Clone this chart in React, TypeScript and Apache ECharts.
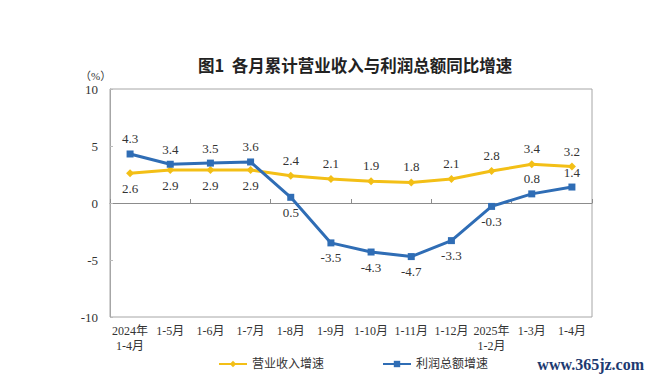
import React, { useEffect, useRef } from "react";
import * as echarts from "echarts";

const categories = ["2024年\n1-4月", "1-5月", "1-6月", "1-7月", "1-8月", "1-9月", "1-10月", "1-11月", "1-12月", "2025年\n1-2月", "1-3月", "1-4月"];
const revenueGrowth = [2.6, 2.9, 2.9, 2.9, 2.4, 2.1, 1.9, 1.8, 2.1, 2.8, 3.4, 3.2];
const profitGrowth = [4.3, 3.4, 3.5, 3.6, 0.5, -3.5, -4.3, -4.7, -3.3, -0.3, 0.8, 1.4];
const revenueLabelPos = ["bottom", "bottom", "bottom", "bottom", "top", "top", "top", "top", "top", "top", "top", "top"];
const profitLabelPos = ["top", "top", "top", "top", "bottom", "bottom", "bottom", "bottom", "bottom", "bottom", "top", "top"];
const yTicks = { min: -10, max: 10, interval: 5 };

const SERIF = "'Liberation Serif', 'Times New Roman', 'Noto Sans CJK SC', serif";
const YELLOW = "#F3BF16";
const BLUE = "#2F6DB5";

export default function App() {
  const ref = useRef<HTMLDivElement>(null);
  useEffect(() => {
    if (!ref.current) return;
    const chart = echarts.init(ref.current, undefined, { renderer: "svg" });
    const mk = (vals: number[], pos: string[]) =>
      vals.map((v, i) => ({ value: v, label: { position: pos[i] } }));
    chart.setOption({
      animation: false,
      backgroundColor: "#ffffff",
      title: {
        text: "图1  各月累计营业收入与利润总额同比增速",
        left: 193,
        top: 52,
        textStyle: { fontSize: 16.5, fontWeight: "bold", color: "#222", fontFamily: "'Noto Sans CJK SC', sans-serif" },
      },
      grid: { left: 110, right: 62, top: 89, bottom: 65, show: true, borderColor: "#a6a6a6", borderWidth: 1, outerBoundsMode: "none", containLabel: false },
      legend: {
        bottom: 7,
        left: 213,
        itemGap: 58,
        itemWidth: 28,
        itemHeight: 8,
        textStyle: { fontSize: 12, color: "#333", fontFamily: SERIF },
        data: ["营业收入增速", "利润总额增速"],
      },
      xAxis: [
        {
          type: "category",
          data: categories,
          position: "bottom",
          boundaryGap: true,
          axisLine: { show: false, onZero: false },
          axisTick: { show: false },
          axisLabel: { margin: 6, fontSize: 12, color: "#333", fontFamily: SERIF, lineHeight: 15, interval: 0 },
          splitLine: { show: false },
        },
        {
          type: "category",
          data: categories,
          position: "top",
          boundaryGap: true,
          axisLine: { show: true, onZero: true, lineStyle: { color: "#8c8c8c", width: 1 } },
          axisTick: { show: true, inside: false, length: 4, lineStyle: { color: "#8c8c8c" } },
          axisLabel: { show: false },
          splitLine: { show: false },
        },
      ],
      yAxis: {
        type: "value",
        min: yTicks.min,
        max: yTicks.max,
        interval: yTicks.interval,
        axisLine: { show: true, lineStyle: { color: "#a6a6a6" } },
        axisTick: { show: true, inside: true, length: 3, lineStyle: { color: "#bbb" } },
        axisLabel: { fontSize: 13, color: "#333", fontFamily: SERIF, margin: 12 },
        splitLine: { show: false },
      },
      graphic: [
        { type: "text", left: 80, top: 70, style: { text: "（%）", fontSize: 11, fill: "#333", fontFamily: SERIF } },
        {
          type: "text",
          right: 10,
          top: 356,
          style: { text: "www.365jz.com", fontSize: 16, fontWeight: "bold", fill: "#1d3a70", fontFamily: "'Liberation Serif', serif" },
        },
      ],
      series: [
        {
          name: "营业收入增速",
          type: "line",
          xAxisIndex: 0,
          data: mk(revenueGrowth, revenueLabelPos),
          symbol: "diamond",
          symbolSize: 8,
          lineStyle: { color: YELLOW, width: 3 },
          itemStyle: { color: YELLOW },
          label: { show: true, fontSize: 13, color: "#333", fontFamily: SERIF, distance: 5 },
          z: 2,
        },
        {
          name: "利润总额增速",
          type: "line",
          xAxisIndex: 0,
          data: mk(profitGrowth, profitLabelPos),
          symbol: "rect",
          symbolSize: 7,
          lineStyle: { color: BLUE, width: 3 },
          itemStyle: { color: BLUE },
          label: { show: true, fontSize: 13, color: "#333", fontFamily: SERIF, distance: 5 },
          z: 3,
        },
      ],
    });
    return () => chart.dispose();
  }, []);
  return <div ref={ref} style={{ width: 654, height: 382, margin: -8 }} />;
}
